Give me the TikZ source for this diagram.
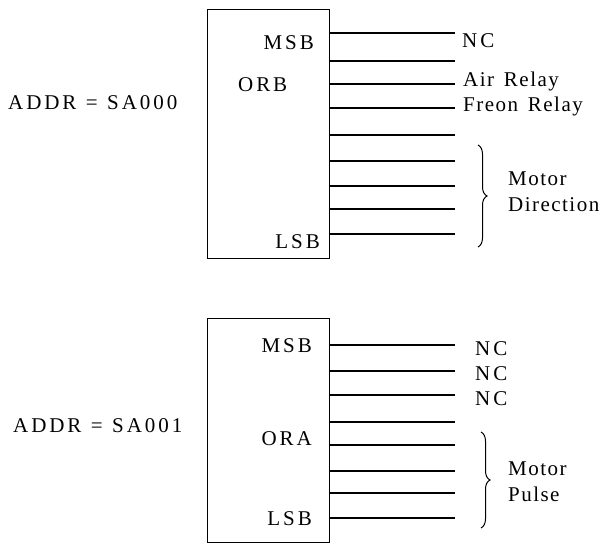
\documentclass[tikz,border=0pt]{standalone}
\usepackage{fontspec}
\setmainfont{Liberation Serif}[LetterSpace=14]
\newfontfamily\tightfont{Liberation Serif}[LetterSpace=7]
\usetikzlibrary{decorations.pathreplacing}
\tikzset{
  port/.style={draw, line width=1pt, minimum width=122pt, inner sep=0pt},
  lbl/.style={inner sep=0pt, font=\fontsize{21}{25}\selectfont},
  note/.style={lbl, font=\fontsize{21}{25}\selectfont\tightfont},
  pin/.style={line width=1.3pt},
  grp/.style={decorate, decoration={brace, amplitude=9pt}, line width=1pt}
}
\begin{document}
\begin{tikzpicture}[x=1pt,y=-1pt]
    \useasboundingbox (0,0) rectangle (603,543);
    % port B
    \node [port, minimum height=248pt] (orb) at (268,134) {};
    \node [lbl, anchor=base west] (addrb) at (8,110) {ADDR\hspace{0.45em}=\hspace{0.45em}SA000};
    \node [lbl, anchor=base east] (msbb) at (314,50) {MSB};
    \node [lbl, anchor=base west] (nameb) at (238,92) {ORB};
    \node [lbl, anchor=base east] (lsbb) at (320,248) {LSB};
    \foreach \y [count=\i] in {33,61,84,108,135,161,186,209,234} {
        \coordinate (pb\i) at (orb.east |- 0,\y);
        \coordinate (qb\i) at (455,\y);
        \draw [pin] (pb\i) -- (qb\i);
    }
    \node [lbl, anchor=base west] (nc1) at (462,48) {NC};
    \node [note, anchor=base west] (air) at (463,87) {Air\hspace{0.15em} Relay};
    \node [note, anchor=base west] (freon) at (463,111) {Freon\hspace{0.15em} Relay};
    \coordinate (bb1) at (478,145);
    \coordinate (bb2) at (478,247);
    \draw [grp] (bb1) -- (bb2);
    \node [note, anchor=base west] (mot1) at (508,185) {Motor};
    \node [note, anchor=base west] (dir) at (508,211) {Direction};
    % port A
    \node [port, minimum height=224pt] (ora) at (268,430) {};
    \node [lbl, anchor=base west] (addra) at (13,432) {ADDR\hspace{0.45em}=\hspace{0.45em}SA001};
    \node [lbl, anchor=base east] (msba) at (312,352) {MSB};
    \node [lbl, anchor=base east] (namea) at (312,445) {ORA};
    \node [lbl, anchor=base east] (lsba) at (312,525) {LSB};
    \foreach \y [count=\i] in {345,371,395,422,445,471,493,518} {
        \coordinate (pa\i) at (ora.east |- 0,\y);
        \coordinate (qa\i) at (455,\y);
        \draw [pin] (pa\i) -- (qa\i);
    }
    \node [lbl, anchor=base west] (nc2) at (475,355) {NC};
    \node [lbl, anchor=base west] (nc3) at (475,380) {NC};
    \node [lbl, anchor=base west] (nc4) at (475,405) {NC};
    \coordinate (ba1) at (481,432);
    \coordinate (ba2) at (481,528);
    \draw [grp] (ba1) -- (ba2);
    \node [note, anchor=base west] (mot2) at (508,475) {Motor};
    \node [note, anchor=base west] (pulse) at (508,501) {Pulse};
\end{tikzpicture}
\end{document}
